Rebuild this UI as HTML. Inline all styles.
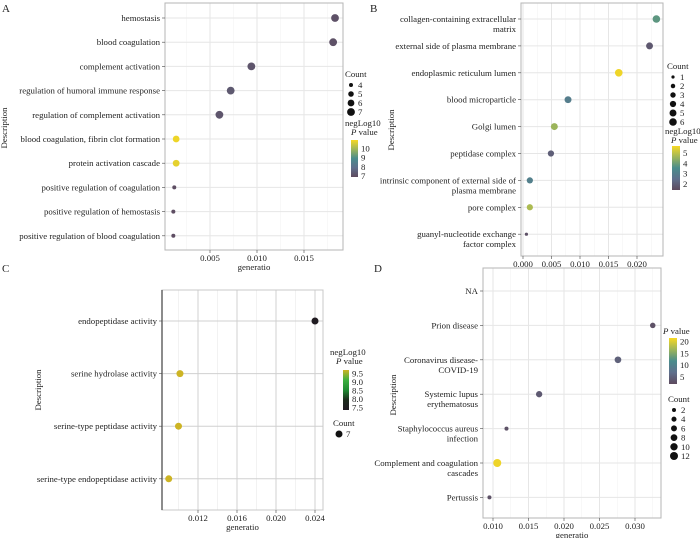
<!DOCTYPE html>
<html><head><meta charset="utf-8">
<style>
html,body{margin:0;padding:0;background:#fff;}
svg, svg text{font-family:"Liberation Serif","DejaVu Serif",serif;}
</style></head>
<body>
<svg id="fig" width="700" height="538" viewBox="0 0 700 538" xmlns="http://www.w3.org/2000/svg" font-family="Liberation Serif, serif"></svg>
<script>
// ---- Panel A data ----
const aTerms = ["hemostasis","blood coagulation","complement activation","regulation of humoral immune response","regulation of complement activation","blood coagulation, fibrin clot formation","protein activation cascade","positive regulation of coagulation","positive regulation of hemostasis","positive regulation of blood coagulation"];
const aRatio = [0.0183,0.0181,0.0094,0.0072,0.0060,0.0014,0.0014,0.0012,0.0011,0.0011];
const aCount = [7,7,7,7,7,6,6,4,4,4];
const aLogP = [7.1,7.1,7.2,7.3,7.2,10.8,10.7,7.0,7.0,7.0];
const aTicks = [0.005,0.010,0.015];
const aCountTicks = [4,5,6,7];
const aColorTicks = [10,9,8,7];
// ---- Panel B data ----
const bTerms = [["collagen-containing extracellular","matrix"],["external side of plasma membrane"],["endoplasmic reticulum lumen"],["blood microparticle"],["Golgi lumen"],["peptidase complex"],["intrinsic component of external side of","plasma membrane"],["pore complex"],["guanyl-nucleotide exchange","factor complex"]];
const bRatio = [0.0234,0.0222,0.0168,0.0079,0.0055,0.0049,0.0012,0.0012,0.0006];
const bCount = [6,5,6,5,5,4,4,4,1];
const bLogP = [3.8,1.8,5.6,3.0,4.6,2.0,3.1,4.8,1.6];
const bTicks = [0.000,0.005,0.010,0.015,0.020];
const bCountTicks = [1,2,3,4,5,6];
const bColorTicks = [5,4,3,2];
// ---- Panel C data ----
const cTerms = ["endopeptidase activity","serine hydrolase activity","serine-type peptidase activity","serine-type endopeptidase activity"];
const cRatio = [0.0240,0.01015,0.0100,0.0090];
const cCount = [7,7,7,7];
const cLogP = [7.4,9.7,9.7,9.7];
const cTicks = [0.012,0.016,0.020,0.024];
const cColorTicks = [9.5,9.0,8.5,8.0,7.5];
// ---- Panel D data ----
const dTerms = [["NA"],["Prion disease"],["Coronavirus disease-","COVID-19"],["Systemic lupus","erythematosus"],["Staphylococcus aureus","infection"],["Complement and coagulation","cascades"],["Pertussis"]];
const dRatio = [null,0.0325,0.0276,0.0165,0.0119,0.0106,0.0095];
const dCount = [0,5,8,7,2,12,2];
const dLogP = [0,3,5,4,3,21,3];
const dTicks = [0.010,0.015,0.020,0.025,0.030];
const dCountTicks = [2,4,6,8,10,12];
const dColorTicks = [20,15,10,5];

const NS="http://www.w3.org/2000/svg";
const svg=document.getElementById('fig');
const FF='"Liberation Serif", serif';
function mk(tag,attrs,parent,text){const e=document.createElementNS(NS,tag);for(const k in attrs)e.setAttribute(k,attrs[k]);if(tag==='text')e.setAttribute('font-family',FF);if(text!==undefined)e.textContent=text;(parent||svg).appendChild(e);return e;}
function lerp(a,b,t){return a+(b-a)*t;}
function hex(c){return [parseInt(c.slice(1,3),16),parseInt(c.slice(3,5),16),parseInt(c.slice(5,7),16)];}
function grad(stops,t){t=Math.max(0,Math.min(1,t));const n=stops.length-1;const i=Math.min(n-1,Math.floor(t*n));const f=t*n-i;const a=hex(stops[i]),b=hex(stops[i+1]);return 'rgb('+a.map((v,k)=>Math.round(lerp(v,b[k],f))).join(',')+')';}
const VIR=["#5e4a5e","#5f6f8c","#4a8c8c","#9db55a","#f7d823"];
const GRN=["#201a22","#1c2a1c","#1e8a32","#3cb040","#cdb424"];

function panel(o){
  const g=mk('g',{});
  
  
  const xs=v=>o.x0+(v-o.v0)*o.k;
  const ys=i=>o.yTop+i*o.step;
  const bg=mk('rect',{x:o.L,y:o.T,width:o.R-o.L,height:o.B-o.T,fill:'#fff'},g);
  
  for(let j=0;j<o.ticks.length+1;j++){const v=o.ticks[0]+(j-0.5)*(o.ticks[1]-o.ticks[0]);const x=xs(v);if(x>o.L&&x<o.R)mk('line',{x1:x,x2:x,y1:o.T,y2:o.B,stroke:o.minor,'stroke-width':0.5},g);}
  o.ticks.forEach(v=>{const x=xs(v);mk('line',{x1:x,x2:x,y1:o.T,y2:o.B,stroke:o.major,'stroke-width':o.majorW},g);});
  o.terms.forEach((t,i)=>{const y=ys(i);mk('line',{x1:o.L,x2:o.R,y1:y,y2:y,stroke:o.major,'stroke-width':o.majorW},g);});
  if(o.frame){mk('rect',{x:o.L,y:o.T,width:o.R-o.L,height:o.B-o.T,fill:'none',stroke:'#b5b5b5','stroke-width':1},g);}
  else{mk('rect',{x:o.L,y:o.T,width:o.R-o.L,height:o.B-o.T,fill:'none',stroke:'#c8c8c8','stroke-width':1},g);mk('line',{x1:o.L,x2:o.L,y1:o.T,y2:o.B,stroke:'#666','stroke-width':1.5},g);}
  o.terms.forEach((t,i)=>{const lines=Array.isArray(t)?t:[t];const y=ys(i);
    mk('line',{x1:o.L-3,x2:o.L,y1:y,y2:y,stroke:'#444','stroke-width':0.6},g);
    lines.forEach((ln,k)=>{const tx=mk('text',{x:o.L-5,y:y+3+k*10,'text-anchor':'end','font-size':8.8,fill:'#222'},g,ln);
      });});
  o.ticks.forEach(v=>{const x=xs(v);mk('line',{x1:x,x2:x,y1:o.B,y2:o.B+3,stroke:'#444','stroke-width':0.6},g);
    const tx=mk('text',{x:x,y:o.B+11,'text-anchor':'middle','font-size':8.8,fill:'#222'},g,v.toFixed(o.dec));
    });
  const xt=mk('text',{x:(o.L+o.R)/2,y:o.B+20,'text-anchor':'middle','font-size':8.8,fill:'#222'},g,'generatio');
  
  const yt=mk('text',{x:0,y:0,'text-anchor':'middle','font-size':8.8,fill:'#222',transform:'translate('+o.ytx+','+o.yty+') rotate(-90)'},g,'Description');
  
  const pl=mk('text',{x:o.lx,y:o.ly,'font-size':11,fill:'#222'},g,o.letter);
  
  o.ratio.forEach((v,i)=>{if(v===null)return;
    const c=mk('circle',{cx:xs(v),cy:ys(i),r:o.rs(o.count[i]),fill:grad(o.stops,(o.logp[i]-o.cmin)/(o.cmax-o.cmin))},g);
    });
  return g;
}
function sizeScale(cmin,cmax,rmin,rmax){return c=>Math.sqrt(lerp(rmin*rmin,rmax*rmax,cmax===cmin?1:(c-cmin)/(cmax-cmin)));}
function sizeLegend(x,y,title,vals,rs,step){const t=mk('text',{x:x,y:y,'font-size':8.8,fill:'#222'},undefined,title);
  
  vals.forEach((v,i)=>{const yy=y+8+i*step;const c=mk('circle',{cx:x+6,cy:yy,r:rs(v),fill:'#111'});
    
    const l=mk('text',{x:x+13,y:yy+3,'font-size':8.8,fill:'#222'},undefined,String(v));
    });}
let gid=0;
function colorLegend(x,y,titles,bx,by,bw,bh,stops,cmin,cmax,ticks,dec){
  titles.forEach((tt,i)=>{const t=mk('text',{x:x+(i?6:0),y:y+i*9,'font-size':8.8,fill:'#222'},undefined);
    if(tt.startsWith('P ')){mk('tspan',{'font-style':'italic'},t,'P');mk('tspan',{},t,' value');}else t.textContent=tt;
    });
  const id='g'+(gid++);const lg=mk('linearGradient',{id:id,x1:0,y1:1,x2:0,y2:0});
  stops.forEach((s,i)=>mk('stop',{offset:i/(stops.length-1),'stop-color':s},lg));
  mk('defs',{}).appendChild(lg);
  const r=mk('rect',{x:bx,y:by,width:bw,height:bh,fill:'url(#'+id+')'});
  
  ticks.forEach(v=>{const yy=by+bh-(v-cmin)/(cmax-cmin)*bh;
    const l=mk('text',{x:bx+bw+3,y:yy+3,'font-size':8.8,fill:'#222'},undefined,v.toFixed(dec));
    });
}

const rsA=sizeScale(4,7,2,3.9);
panel({name:'panel-a',letter:'A',lx:2,ly:12,L:165,R:343,T:3,B:250,x0:210,v0:0.005,k:9400,yTop:18,step:24.2,
  terms:aTerms,ratio:aRatio,count:aCount,logp:aLogP,ticks:aTicks,dec:3,rs:rsA,stops:VIR,cmin:6.9,cmax:10.9,
  major:'#e6e6e6',majorW:1,minor:'#f2f2f2',frame:true,ytx:7,yty:128});
sizeLegend(345,77,'Count',aCountTicks,rsA,9);
colorLegend(345,126,['negLog10','P value'],351,140,7,37,VIR,6.9,10.9,aColorTicks,0);

const rsB=sizeScale(1,6,1.6,3.8);
panel({name:'panel-b',letter:'B',lx:370,ly:12,L:521,R:663,T:3,B:256,x0:523,v0:0,k:5700,yTop:19,step:26.9,
  terms:bTerms,ratio:bRatio,count:bCount,logp:bLogP,ticks:bTicks,dec:3,rs:rsB,stops:VIR,cmin:1.4,cmax:5.7,
  major:'#e6e6e6',majorW:1,minor:'#f2f2f2',frame:true,ytx:394,yty:130});
sizeLegend(667,69,'Count',bCountTicks,rsB,9);
colorLegend(665,134,['negLog10','P value'],672,146,8,44,VIR,1.4,5.7,bColorTicks,0);

const rsC=sizeScale(7,7,3.5,3.5);
panel({name:'panel-c',letter:'C',lx:2,ly:272,L:162,R:323,T:290,B:510,x0:198,v0:0.012,k:9750,yTop:321,step:52.6,
  terms:cTerms,ratio:cRatio,count:cCount,logp:cLogP,ticks:cTicks,dec:3,rs:rsC,stops:GRN,cmin:7.35,cmax:9.7,
  major:'#d0d0d0',majorW:1,minor:'#e4e4e4',frame:false,ytx:41,yty:390});
colorLegend(330,355,['negLog10','P value'],343,370,6,40,GRN,7.35,9.7,cColorTicks,1);
sizeLegend(333,426,'Count',[7],rsC,9);

const rsD=sizeScale(2,12,2,4);
panel({name:'panel-d',letter:'D',lx:374,ly:272,L:483,R:661,T:268,B:518,x0:493,v0:0.010,k:7100,yTop:291,step:34.4,
  terms:dTerms,ratio:dRatio,count:dCount,logp:dLogP,ticks:dTicks,dec:3,rs:rsD,stops:VIR,cmin:2,cmax:21.5,
  major:'#e6e6e6',majorW:1,minor:'#f2f2f2',frame:true,ytx:396,yty:395});
colorLegend(663,334,['P value'],669,338,8,46,VIR,2,21.5,dColorTicks,0);
sizeLegend(668,402,'Count',dCountTicks,rsD,9.2);
</script>
</body></html>
